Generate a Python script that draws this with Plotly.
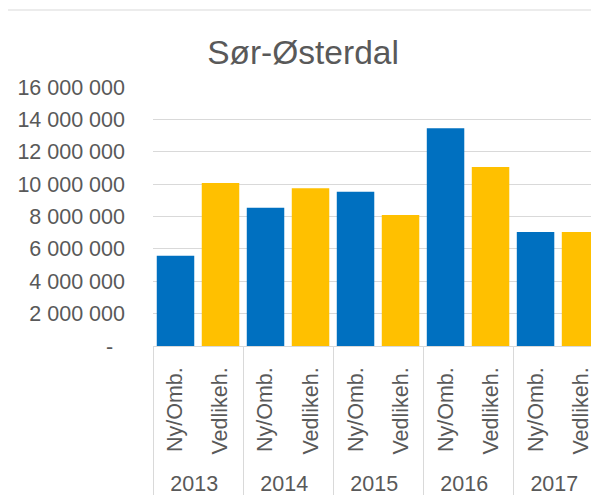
import plotly.graph_objects as go

years = ["2013", "2014", "2015", "2016", "2017"]
subcats = ["\u00a0Ny/Omb.\u00a0", "\u00a0Vedlikeh.\u00a0"]
ny_omb = [5580000, 8540000, 9530000, 13450000, 7040000]
vedlikeh = [10070000, 9740000, 8090000, 11060000, 7040000]
y_ticks = [0, 2000000, 4000000, 6000000, 8000000, 10000000, 12000000, 14000000, 16000000]
y_ticktext = ["-\u00a0\u00a0", "2 000 000", "4 000 000", "6 000 000", "8 000 000",
              "10 000 000", "12 000 000", "14 000 000", "16 000 000"]
series_colors = ["#0070C0", "#FFC000"]

x_outer, x_inner, yv, cols = [], [], [], []
for i, yr in enumerate(years):
    for s, series, c in zip(subcats, [ny_omb, vedlikeh], series_colors):
        x_outer.append(yr)
        x_inner.append(s)
        yv.append(series[i])
        cols.append(c)

fig = go.Figure()
fig.add_trace(go.Bar(x=[x_outer, x_inner], y=yv, marker=dict(color=cols, line=dict(width=0)),
                     hoverinfo="y"))

font_main = "Liberation Sans, Arial, sans-serif"
fig.update_layout(
    width=591, height=487,
    margin=dict(l=145, r=0, t=79, b=149, autoexpand=False),
    paper_bgcolor="white", plot_bgcolor="white",
    bargap=0.167,
    showlegend=False,
    title=dict(text="Sør-Østerdal", x=295 / 591, xanchor="center", y=1 - 44 / 487, yanchor="middle",
               font=dict(family=font_main, size=33.5, color="#595959")),
    font=dict(family=font_main, size=21, color="#595959"),
    xaxis=dict(type="multicategory", range=[-0.5, 9.41], tickangle=-90, automargin=False,
               showdividers=True, dividercolor="#D9D9D9", dividerwidth=1,
               tickfont=dict(size=21.5, color="#595959"), showgrid=False, showline=False,
               ticks="", ticklabelstandoff=10),
    yaxis=dict(range=[0, 16000000], tickvals=y_ticks, ticktext=y_ticktext, automargin=False,
               showgrid=True, gridcolor="#D9D9D9", gridwidth=1,
               zeroline=True, zerolinecolor="#D9D9D9", zerolinewidth=1,
               ticks="", ticklabelstandoff=27, tickfont=dict(size=21.5, color="#595959")),
    shapes=[dict(type="rect", xref="paper", yref="paper", x0=(-1 - 145) / 446, x1=1.2,
                 y0=-1, y1=(338 - 2) / 259, line=dict(color="#D9D9D9", width=1),
                 fillcolor="rgba(0,0,0,0)", layer="below")],
)

fig.write_html("out.html")
